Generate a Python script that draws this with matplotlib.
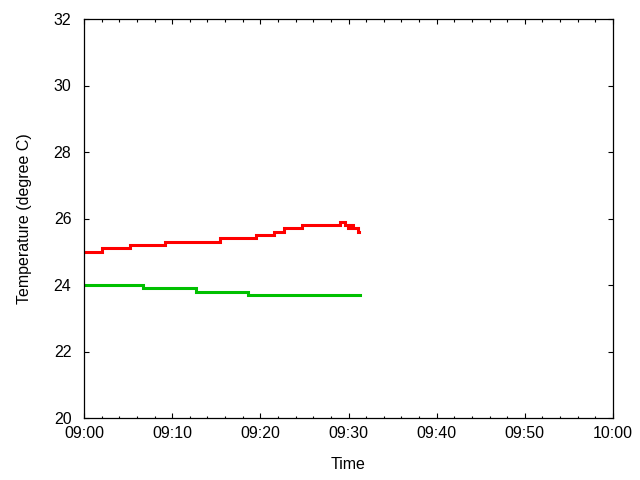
import pandas as pd
import matplotlib
matplotlib.use('Agg')
import matplotlib.pyplot as plt
import matplotlib.dates as mdates

# change points of each series (time, temperature)
red_times = ['09:00:00', '09:02:00', '09:05:12', '09:09:12', '09:15:24',
             '09:19:30', '09:21:30', '09:22:42', '09:24:42', '09:29:00',
             '09:29:36', '09:29:54', '09:30:12', '09:30:30', '09:31:06',
             '09:31:12']
red_temps = [25.0, 25.1, 25.2, 25.3, 25.4,
             25.5, 25.6, 25.7, 25.8, 25.9,
             25.8, 25.7, 25.8, 25.7, 25.6,
             25.6]

green_times = ['09:00:00', '09:06:42', '09:12:42', '09:18:36', '09:31:18']
green_temps = [24.0, 23.9, 23.8, 23.7, 23.7]

x_start = '09:00'
x_end = '10:00'
y_ticks = [20, 22, 24, 26, 28, 30, 32]

def to_dt(ts):
    return pd.to_datetime(['2000-01-01 ' + t for t in ts])

plt.rcParams['font.family'] = ['Liberation Sans', 'DejaVu Sans']

fig = plt.figure(figsize=(6.4, 4.8), dpi=100)
ax = fig.add_axes([84 / 640, 62 / 480, 529 / 640, 399 / 480])

ax.plot(to_dt(red_times), red_temps, color='#ff0000', linewidth=2.2,
        drawstyle='steps-post', solid_joinstyle='miter')
ax.plot(to_dt(green_times), green_temps, color='#00c000', linewidth=2.2,
        drawstyle='steps-post', solid_joinstyle='miter')

t0, t1 = to_dt([x_start + ':00', x_end + ':00'])
ax.set_xlim(t0, t1)
ax.set_ylim(y_ticks[0], y_ticks[-1])
ax.set_yticks(y_ticks)

ax.xaxis.set_major_locator(mdates.MinuteLocator(byminute=range(0, 60, 10)))
ax.xaxis.set_minor_locator(mdates.MinuteLocator(byminute=range(0, 60, 2)))
ax.xaxis.set_major_formatter(mdates.DateFormatter('%H:%M'))

ax.tick_params(which='both', direction='in', top=True, right=True,
               labelsize=11.5, colors='black', width=0.8)
ax.tick_params(which='major', length=3.3, pad=6)
ax.tick_params(which='minor', length=1.8)
ax.tick_params(axis='y', pad=9)
for s in ax.spines.values():
    s.set_linewidth(0.9)

ax.set_xlabel('Time', fontsize=11.5, labelpad=11)
ax.set_ylabel('Temperature (degree C)', fontsize=11.5, labelpad=16)

fig.savefig('out.png', dpi=100)
